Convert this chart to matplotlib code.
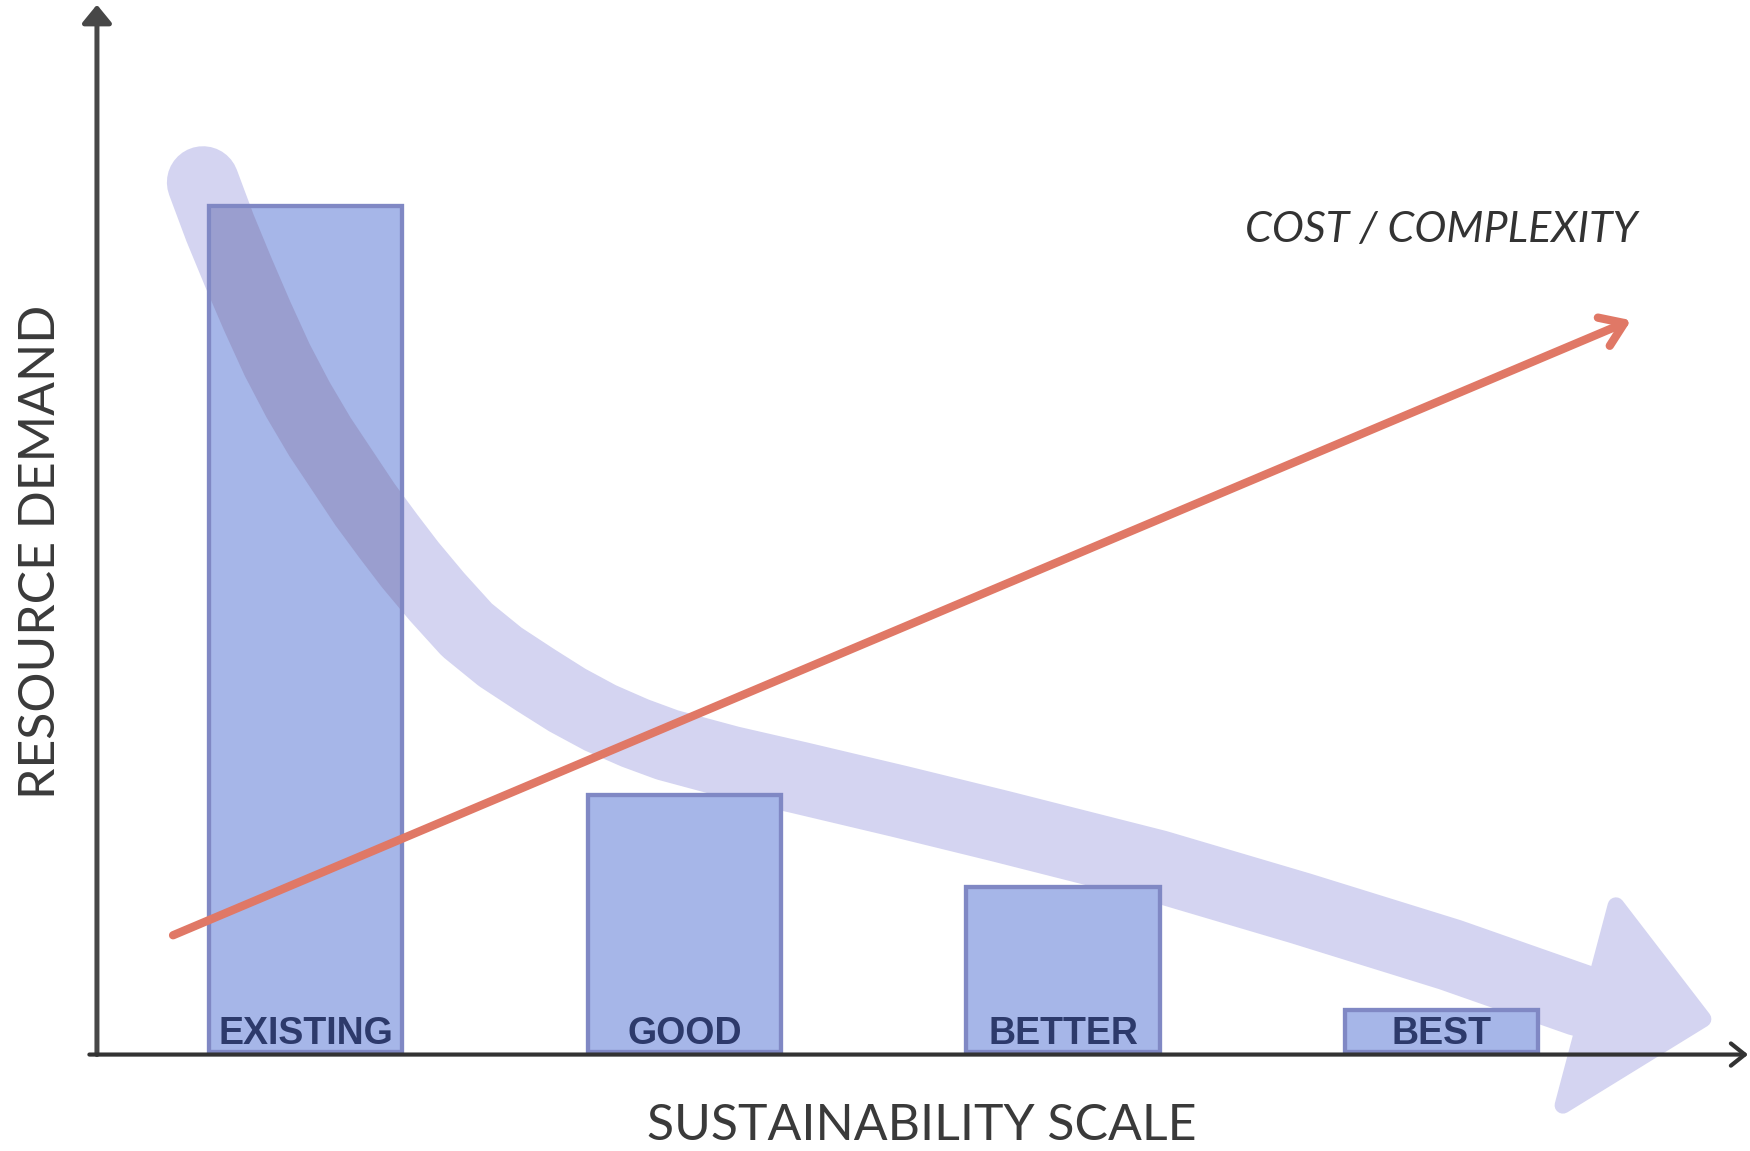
import numpy as np
import matplotlib.pyplot as plt
from matplotlib.patches import FancyArrowPatch, Polygon

# bars: resource demand per level of the sustainability scale
categories = ['EXISTING', 'GOOD', 'BETTER', 'BEST']
demand = [100, 30.4, 19.5, 5.0]

# cost / complexity trend line (start and end)
cost_x = [-0.35, 3.50]
cost_y = [13.8, 86.5]

# sweeping demand trend band
trend_x = [-0.271, -0.226, -0.178, -0.128, -0.075, -0.020, 0.038, 0.099, 0.157, 0.218,
           0.276, 0.347, 0.426, 0.514, 0.606, 0.691, 0.778, 0.870, 0.955, 1.121,
           1.306, 1.570, 1.834, 2.248, 2.626, 3.022, 3.366]
trend_y = [102.8, 97.4, 92.2, 87.0, 81.8, 77.1, 72.7, 68.6, 64.7, 61.0,
           57.6, 53.8, 49.9, 46.7, 44.0, 41.6, 39.5, 37.7, 36.3, 34.3,
           32.4, 29.6, 26.7, 22.0, 17.0, 11.5, 6.1]
head_x = [3.46, 3.69, 3.32]
head_y = [17.3, 3.9, -6.3]

fig = plt.figure(figsize=(17.5, 11.51), dpi=100)
ax = fig.add_axes([0, 0, 1, 1])
ax.set_xlim(-0.807, 3.814)
ax.set_ylim(-11.7, 124.35)
ax.axis('off')

x = np.arange(len(categories))
band_col = '#D4D4F1'
band_lw = 52

# big lavender trend arrow (behind the bars)
ax.plot(trend_x, trend_y, color=band_col, lw=band_lw, solid_capstyle='round',
        solid_joinstyle='round', zorder=1)
head = Polygon(np.column_stack([head_x, head_y]), closed=True, facecolor=band_col,
               edgecolor=band_col, lw=12, joinstyle='round', zorder=1)
ax.add_patch(head)

bars = ax.bar(x, demand, width=0.51, color='#A6B6E8', edgecolor='#8088C4',
              linewidth=3, zorder=2)

# darker band where it crosses the first bar
dark, = ax.plot(trend_x, trend_y, color='#9A9ECF', lw=band_lw, solid_capstyle='round',
                solid_joinstyle='round', zorder=3)
dark.set_clip_path(bars[0])
ax.bar(x, demand, width=0.51, fill=False, edgecolor='#8088C4', linewidth=3, zorder=3.5)

for xi, cat in zip(x, categories):
    ax.text(xi, 0.9, cat, ha='center', va='baseline', fontsize=27, fontweight='bold',
            family='Liberation Sans', color='#2D3A6B', zorder=5)

# cost / complexity arrow
red = FancyArrowPatch((cost_x[0], cost_y[0]), (cost_x[1], cost_y[1]),
                      arrowstyle='->,head_length=0.8,head_width=0.55', mutation_scale=20,
                      lw=6, color='#E07866', shrinkA=0, shrinkB=0, zorder=4)
ax.add_patch(red)

# axes drawn as arrows
yax = FancyArrowPatch((-0.551, -0.3), (-0.551, 123.8),
                      arrowstyle='-|>,head_length=0.55,head_width=0.45', mutation_scale=20,
                      lw=3.6, color='#474747', shrinkA=0, shrinkB=0, zorder=6)
xax = FancyArrowPatch((-0.571, -0.3), (3.809, -0.3),
                      arrowstyle='->,head_length=0.5,head_width=0.4', mutation_scale=20,
                      lw=3, color='#333333', shrinkA=0, shrinkB=0, zorder=6)
ax.add_patch(yax)
ax.add_patch(xax)

ax.text(-0.699, 59.1, 'RESOURCE DEMAND', rotation=90, ha='center', va='center',
        fontsize=36, family='Lato', color='#3A3A3A')
ax.text(1.626, -8.7, 'SUSTAINABILITY SCALE', ha='center', va='center',
        fontsize=36, family='Lato', color='#3A3A3A')
ax.text(2.998, 97.2, 'COST / COMPLEXITY', ha='center', va='center',
        fontsize=31, family='Lato', style='italic', color='#333333')

fig.savefig('out.png', dpi=100)
